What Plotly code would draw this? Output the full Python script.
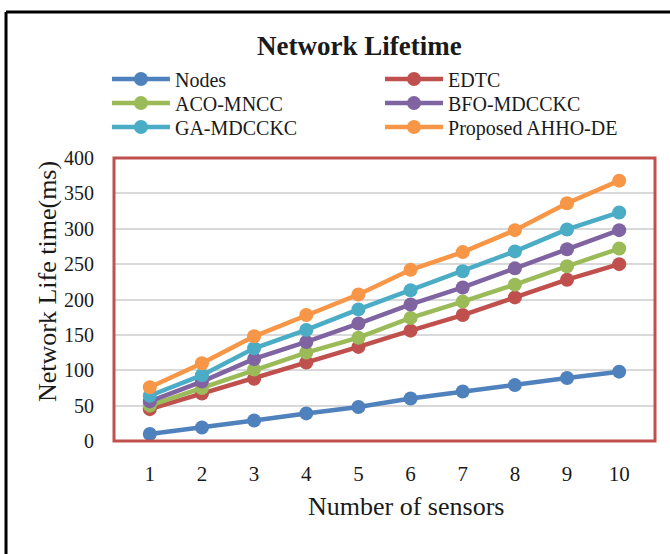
import plotly.graph_objects as go

# Sensor counts on the x axis
sensors = [1, 2, 3, 4, 5, 6, 7, 8, 9, 10]

# Network lifetime (ms) per method
nodes = [10, 19, 29, 39, 48, 60, 70, 79, 89, 98]
edtc = [45, 67, 88, 111, 133, 156, 178, 203, 228, 250]
aco_mncc = [50, 75, 101, 125, 146, 174, 197, 221, 247, 272]
bfo_mdcckc = [56, 84, 116, 140, 166, 193, 217, 244, 271, 298]
ga_mdcckc = [64, 93, 131, 157, 186, 213, 240, 268, 299, 323]
proposed = [76, 110, 148, 178, 207, 242, 267, 298, 336, 368]

y_ticks = [0, 50, 100, 150, 200, 250, 300, 350, 400]

series_names = ["Nodes", "EDTC", "ACO-MNCC", "BFO-MDCCKC", "GA-MDCCKC", "Proposed AHHO-DE"]
series_values = [nodes, edtc, aco_mncc, bfo_mdcckc, ga_mdcckc, proposed]
series_colors = ["#4F81BD", "#C0504D", "#9BBB59", "#8064A2", "#4BACC6", "#F79646"]

SERIF = "Liberation Serif, Times New Roman, serif"

# Two-column legend grid: each entry gets its own legend box
legend_cols = [-0.013, 0.4917]
legend_rows = [1.279, 1.194, 1.1095]

fig = go.Figure()
legend_layout = {}
for i, (name, vals, color) in enumerate(zip(series_names, series_values, series_colors)):
    key = "legend" if i == 0 else f"legend{i + 1}"
    fig.add_trace(go.Scatter(
        x=[str(s) for s in sensors], y=vals, name=name, mode="lines+markers",
        line=dict(color=color, width=4.5),
        marker=dict(color=color, size=14),
        legend=key,
    ))
    legend_layout[key] = dict(
        x=legend_cols[i % 2], y=legend_rows[i // 2],
        xanchor="left", yanchor="middle", orientation="v",
        font=dict(family=SERIF, size=20, color="#1a1a1a"),
        bgcolor="rgba(0,0,0,0)", itemwidth=58,
    )

fig.update_layout(
    width=670, height=554,
    margin=dict(l=114, r=15, t=158, b=113),
    paper_bgcolor="white", plot_bgcolor="white",
    showlegend=True,
    **legend_layout,
    xaxis=dict(
        type="category", showgrid=False, zeroline=False, showline=False,
        ticks="", ticklabelstandoff=18,
        tickfont=dict(family=SERIF, size=21, color="#1a1a1a"),
    ),
    yaxis=dict(
        range=[0, 400], tickvals=y_ticks, showgrid=True,
        gridcolor="#D9D9D9", gridwidth=1.5, zeroline=False, showline=False,
        ticks="", ticklabelstandoff=19,
        tickfont=dict(family=SERIF, size=20, color="#1a1a1a"),
    ),
    annotations=[
        dict(text="<b>Network Lifetime</b>", x=0.4547, y=1.396,
             xref="paper", yref="paper", xanchor="center", yanchor="middle",
             showarrow=False, font=dict(family=SERIF, size=27, color="#1a1a1a")),
        dict(text="Number of sensors", x=0.54, y=-0.233,
             xref="paper", yref="paper", xanchor="center", yanchor="middle",
             showarrow=False, font=dict(family=SERIF, size=26, color="#1a1a1a")),
        dict(text="Network Life time(ms)", x=-0.124, y=0.565, textangle=-90,
             xref="paper", yref="paper", xanchor="center", yanchor="middle",
             showarrow=False, font=dict(family=SERIF, size=26, color="#1a1a1a")),
    ],
    shapes=[
        # plot area border
        dict(type="rect", xref="paper", yref="paper", x0=0, y0=0, x1=1, y1=1,
             line=dict(color="#C0504D", width=3), layer="above"),
        # outer chart frame (top and left edges)
        dict(type="line", xref="paper", yref="paper",
             x0=-0.1996, y0=1.516, x1=1.03, y1=1.516,
             line=dict(color="black", width=3)),
        dict(type="line", xref="paper", yref="paper",
             x0=-0.1996, y0=1.516, x1=-0.1996, y1=-0.41,
             line=dict(color="black", width=3)),
    ],
)

fig.write_html("out.html")
